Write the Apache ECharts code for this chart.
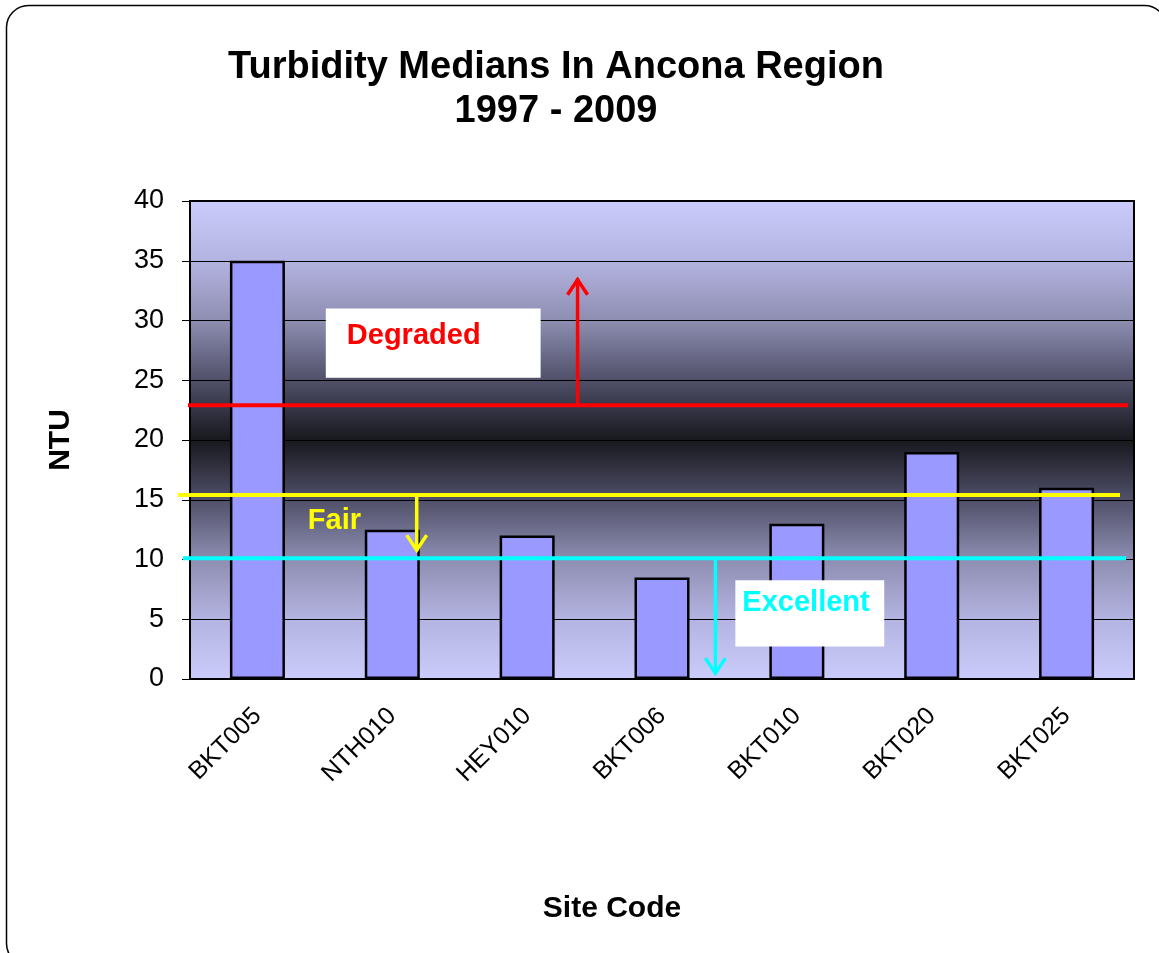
<!DOCTYPE html>
<html>
<head>
<meta charset="utf-8">
<script src="https://cdn.jsdelivr.net/npm/echarts@6/dist/echarts.min.js"></script>
<style>
html, body { margin: 0; padding: 0; background: #fff; }
#chart { width: 1159px; height: 953px; }
</style>
</head>
<body>
<div id="chart"></div>
<script>
const sites = ["BKT005", "NTH010", "HEY010", "BKT006", "BKT010", "BKT020", "BKT025"];
const medians = [35, 12.5, 12, 8.5, 13, 19, 16];

// threshold lines (x in category widths counted from the left edge of the plot)
const thresholdNames = ["Degraded", "Fair", "Excellent"];
const thresholdValues = [22.9, 15.4, 10.1];
const lineStart = [-0.015, -0.089, -0.052];
const lineEnd = [6.956, 6.896, 6.941];
const arrowX = [2.874, 1.681, 3.896];
const arrowTip = [33.5, 10.7, 0.4];
const labelAnchor = [[1.163, 28.7], [0.874, 13.2], [4.096, 6.33]];
const labelBox = [[1.007, 31.0, 2.6, 25.2], null, [4.044, 8.26, 5.148, 2.73]];

const colors = ["#ff0000", "#ffff00", "#00ffff"];
const font = "'Liberation Sans', Arial, sans-serif";

const chart = echarts.init(document.getElementById("chart"));

chart.setOption({
  animation: false,
  title: {
    text: "Turbidity Medians In Ancona Region\n1997 - 2009",
    left: 551,
    top: 41,
    textAlign: "center",
    textStyle: { fontFamily: font, fontSize: 38, fontWeight: "bold", color: "#000", lineHeight: 44 },
  },
  graphic: [
    {
      type: "rect",
      shape: { x: 6.5, y: 5.5, width: 1160, height: 960, r: 22 },
      style: { fill: null, stroke: "#000", lineWidth: 1.5 },
      z: -10,
    },
  ],
  grid: {
    left: 190,
    top: 201,
    right: 25,
    bottom: 274,
    show: true,
    borderColor: "#000",
    borderWidth: 2,
    backgroundColor: new echarts.graphic.LinearGradient(0, 0, 0, 1, [
      { offset: 0, color: "#ccccfc" },
      { offset: 0.125, color: "#b4b4e2" },
      { offset: 0.25, color: "#8e8eb2" },
      { offset: 0.375, color: "#50506a" },
      { offset: 0.5, color: "#18181e" },
      { offset: 0.625, color: "#50506a" },
      { offset: 0.75, color: "#8e8eb2" },
      { offset: 0.875, color: "#b4b4e2" },
      { offset: 1, color: "#ccccfc" },
    ]),
  },
  xAxis: [
    {
      type: "category",
      data: sites,
      name: "Site Code",
      nameLocation: "middle",
      nameGap: 215,
      nameTextStyle: { fontFamily: font, fontSize: 30, fontWeight: "bold", color: "#000", padding: [0, 100, 0, 0] },
      axisLine: { lineStyle: { color: "#000", width: 2 } },
      axisTick: { length: 7, lineStyle: { color: "#000", width: 1 } },
      axisLabel: { rotate: 45, margin: 33, fontFamily: font, fontSize: 25, color: "#000" },
    },
    {
      type: "value",
      min: 0,
      max: 7,
      show: false,
    },
  ],
  yAxis: {
    type: "value",
    min: 0,
    max: 40,
    interval: 5,
    name: "NTU",
    nameLocation: "middle",
    nameGap: 114,
    nameTextStyle: { fontFamily: font, fontSize: 30, fontWeight: "bold", color: "#000" },
    axisLine: { show: true, lineStyle: { color: "#000", width: 2 } },
    axisTick: { show: true, length: 8, lineStyle: { color: "#000", width: 1 } },
    axisLabel: { margin: 26, fontFamily: font, fontSize: 27, color: "#000" },
    splitLine: { lineStyle: { color: "#000", width: 1 } },
  },
  series: [
    {
      type: "bar",
      data: medians,
      barWidth: 55,
      itemStyle: { color: "#9999ff", borderColor: "#000", borderWidth: 2.5 },
    },
    {
      type: "custom",
      xAxisIndex: 1,
      clip: false,
      z: 5,
      encode: { x: [1, 2, 3], y: [0, 4] },
      data: thresholdValues.map((v, i) => [v, lineStart[i], lineEnd[i], arrowX[i], arrowTip[i]]),
      renderItem(params, api) {
        const v = api.value(0);
        const p0 = api.coord([api.value(1), v]);
        const p1 = api.coord([api.value(2), v]);
        const a0 = api.coord([api.value(3), v]);
        const a1 = api.coord([api.value(3), api.value(4)]);
        const dir = a1[1] < a0[1] ? 1 : -1;
        const color = colors[params.dataIndex];
        return {
          type: "group",
          children: [
            { type: "line", shape: { x1: p0[0], y1: p0[1], x2: p1[0], y2: p1[1] }, style: { stroke: color, lineWidth: 4 } },
            { type: "line", shape: { x1: a0[0], y1: a0[1], x2: a1[0], y2: a1[1] }, style: { stroke: color, lineWidth: 3.5 } },
            {
              type: "polyline",
              shape: { points: [[a1[0] - 10, a1[1] + dir * 16], [a1[0], a1[1] + dir * 1], [a1[0] + 10, a1[1] + dir * 16]] },
              style: { stroke: color, lineWidth: 3.5, fill: null },
            },
          ],
        };
      },
    },
    {
      type: "custom",
      xAxisIndex: 1,
      clip: false,
      z: 6,
      encode: { x: 0, y: 1 },
      data: labelAnchor,
      renderItem(params, api) {
        const i = params.dataIndex;
        const t = api.coord([api.value(0), api.value(1)]);
        const children = [];
        const box = labelBox[i];
        if (box) {
          const b0 = api.coord([box[0], box[1]]);
          const b1 = api.coord([box[2], box[3]]);
          children.push({
            type: "rect",
            shape: { x: b0[0], y: b0[1], width: b1[0] - b0[0], height: b1[1] - b0[1] },
            style: { fill: "#fff" },
          });
        }
        children.push({
          type: "text",
          x: t[0],
          y: t[1],
          style: {
            text: thresholdNames[i],
            fill: colors[i],
            font: "bold 29px " + font,
            align: "left",
            verticalAlign: "middle",
          },
        });
        return { type: "group", children };
      },
    },
  ],
});
</script>
</body>
</html>
